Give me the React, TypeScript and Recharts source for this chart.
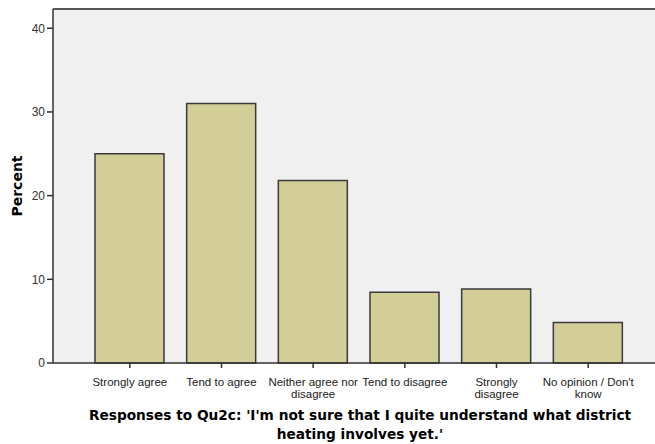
import { BarChart, Bar, XAxis, YAxis, CartesianGrid, ReferenceLine, Label } from 'recharts';

// response categories, line breaks as drawn under the axis
const categories = [
  'Strongly agree',
  'Tend to agree',
  'Neither agree nor\ndisagree',
  'Tend to disagree',
  'Strongly\ndisagree',
  "No opinion / Don't\nknow",
];

const percents = [25.0, 31.0, 21.8, 8.45, 8.85, 4.85];

const yTicks = [0, 10, 20, 30, 40];
const yMax = 42.3;

const titleLines = [
  "Responses to Qu2c: 'I'm not sure that I quite understand what district",
  "heating involves yet.'",
];

const data = categories.map((c, i) => ({ name: c, value: percents[i] }));

const CategoryTick = (props: any) => {
  const { x, y, payload } = props;
  const lines = String(payload.value).split('\n');
  return (
    <g transform={`translate(${x},${y})`}>
      {lines.map((l, i) => (
        <text
          key={i}
          x={0}
          y={15.5 + i * 12.5}
          textAnchor="middle"
          fontSize={11.5}
          fontFamily="Liberation Sans, Arial, sans-serif"
          fill="#222"
        >
          {l}
        </text>
      ))}
    </g>
  );
};

const AxisTitle = (props: any) => {
  const vb = props.viewBox;
  const cx = 360;
  return (
    <g>
      {titleLines.map((l, i) => (
        <text
          key={i}
          x={cx}
          y={vb.y + 57 + i * 19}
          textAnchor="middle"
          fontSize={13.7}
          fontWeight="bold"
          fontFamily="DejaVu Sans, Verdana, sans-serif"
          fill="#000"
        >
          {l}
        </text>
      ))}
    </g>
  );
};

export default function App() {
  return (
    <div style={{ width: 655, height: 444, overflow: 'hidden', background: '#fff' }}>
      <style>{'body{margin:0}'}</style>
      <BarChart
        width={680}
        height={444}
        data={data}
        margin={{ top: 9, right: 15, bottom: 0, left: 0 }}
      >
        <CartesianGrid horizontal={false} vertical={false} fill="#f0f0f0" />
        <XAxis
          dataKey="name"
          interval={0}
          padding={{ left: 31, right: 31 }}
          height={81}
          tick={<CategoryTick />}
          tickSize={5}
          axisLine={{ stroke: '#333', strokeWidth: 1.5 }}
          tickLine={{ stroke: '#333', strokeWidth: 1.5 }}
        >
          <Label content={<AxisTitle />} />
        </XAxis>
        <YAxis
          width={53}
          domain={[0, yMax]}
          ticks={yTicks}
          tickSize={6}
          tick={{ fontSize: 12, fill: '#333', fontFamily: 'Liberation Sans, Arial, sans-serif' }}
          axisLine={{ stroke: '#333', strokeWidth: 1.5 }}
          tickLine={{ stroke: '#333', strokeWidth: 1.5 }}
        >
          <Label
            value="Percent"
            angle={-90}
            position="insideLeft"
            offset={17}
            style={{ fontSize: 14, fontWeight: 'bold', fill: '#000', fontFamily: 'DejaVu Sans, Verdana, sans-serif', textAnchor: 'middle' }}
          />
        </YAxis>
        <ReferenceLine y={yMax} stroke="#555" strokeWidth={2} />
        <Bar dataKey="value" barSize={69} fill="#d3ce97" stroke="#3a3a3a" strokeWidth={1.5} isAnimationActive={false} />
      </BarChart>
    </div>
  );
}
